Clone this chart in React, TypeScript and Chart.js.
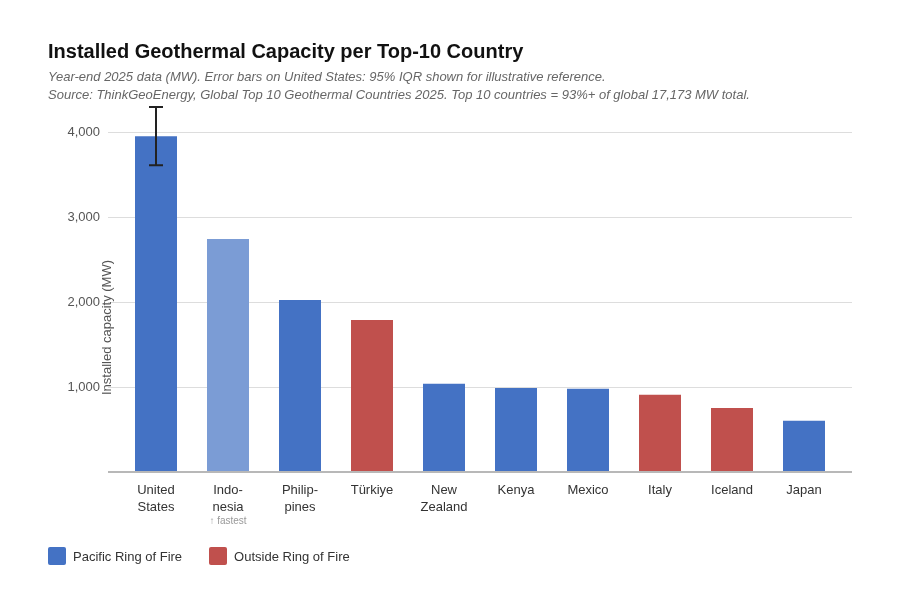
import { useEffect, useRef } from "react";
import { Chart, registerables } from "chart.js";

Chart.register(...registerables);

const categories = [
  ["United", "States"],
  ["Indo-", "nesia"],
  ["Philip-", "pines"],
  ["Türkiye"],
  ["New", "Zealand"],
  ["Kenya"],
  ["Mexico"],
  ["Italy"],
  ["Iceland"],
  ["Japan"],
];
const capacityMW = [3955, 2745, 2025, 1790, 1040, 990, 980, 910, 755, 603];
const pacificRing = [true, true, true, false, true, true, true, false, false, true];
const fastestGrowing = [false, true, false, false, false, false, false, false, false, false];
const errLow = [3615, null, null, null, null, null, null, null, null, null];
const errHigh = [4300, null, null, null, null, null, null, null, null, null];
const yTicks = [1000, 2000, 3000, 4000];
const yMax = 4300;

const BLUE = "#4472C4";
const BLUE_LIGHT = "#7B9CD5";
const RED = "#C0504D";
const FONT = '"Liberation Sans", Arial, sans-serif';

// gridlines, baseline, error bar, axis title and the "fastest" note
const extrasPlugin = {
  id: "extras",
  beforeDatasetsDraw(chart: any) {
    const { ctx, chartArea, scales } = chart;
    ctx.save();
    ctx.strokeStyle = "#dddddd";
    ctx.lineWidth = 1;
    yTicks.forEach((v) => {
      const y = Math.round(scales.y.getPixelForValue(v)) + 0.5;
      ctx.beginPath();
      ctx.moveTo(chartArea.left - 12, y);
      ctx.lineTo(chartArea.right + 12, y);
      ctx.stroke();
    });
    ctx.restore();
  },
  afterDatasetsDraw(chart: any) {
    const { ctx, chartArea, scales } = chart;
    ctx.save();
    // baseline
    ctx.strokeStyle = "#b8b8b8";
    ctx.lineWidth = 2;
    const y0 = scales.y.getPixelForValue(0);
    ctx.beginPath();
    ctx.moveTo(chartArea.left - 12, y0);
    ctx.lineTo(chartArea.right + 12, y0);
    ctx.stroke();

    // error bars
    ctx.strokeStyle = "#222222";
    ctx.lineWidth = 2;
    errLow.forEach((lo, i) => {
      const hi = errHigh[i];
      if (lo == null || hi == null) return;
      const x = scales.x.getPixelForValue(i);
      const yl = scales.y.getPixelForValue(lo);
      const yh = scales.y.getPixelForValue(hi);
      ctx.beginPath();
      ctx.moveTo(x, yl);
      ctx.lineTo(x, yh);
      ctx.moveTo(x - 7, yl);
      ctx.lineTo(x + 7, yl);
      ctx.moveTo(x - 7, yh);
      ctx.lineTo(x + 7, yh);
      ctx.stroke();
    });

    // y axis title
    ctx.fillStyle = "#555555";
    ctx.font = `13px ${FONT}`;
    ctx.textAlign = "center";
    ctx.textBaseline = "middle";
    ctx.translate(chartArea.left - 13, (chartArea.top + chartArea.bottom) / 2 + 38);
    ctx.rotate(-Math.PI / 2);
    ctx.fillText("Installed capacity (MW)", 0, 0);
    ctx.restore();

    // fastest note
    ctx.save();
    ctx.fillStyle = "#999999";
    ctx.font = `10px ${FONT}`;
    ctx.textAlign = "center";
    ctx.textBaseline = "middle";
    fastestGrowing.forEach((f, i) => {
      if (!f) return;
      ctx.fillText("↑ fastest", scales.x.getPixelForValue(i), y0 + 49);
    });
    ctx.restore();
  },
};

function GeothermalChart() {
  const canvasRef = useRef<HTMLCanvasElement>(null);
  const chartRef = useRef<Chart | null>(null);

  useEffect(() => {
    if (!canvasRef.current) return;
    const ctx = canvasRef.current.getContext("2d");
    if (!ctx) return;
    if (chartRef.current) chartRef.current.destroy();

    const colors = capacityMW.map((_, i) =>
      fastestGrowing[i] ? BLUE_LIGHT : pacificRing[i] ? BLUE : RED
    );

    chartRef.current = new Chart(ctx, {
      type: "bar",
      data: {
        labels: categories as any,
        datasets: [
          {
            data: capacityMW,
            backgroundColor: colors,
            borderWidth: 0,
            barPercentage: 42 / 72,
            categoryPercentage: 1,
          },
        ],
      },
      options: {
        animation: false,
        responsive: true,
        maintainAspectRatio: false,
        layout: { padding: { top: 107, right: 60, bottom: 0, left: 0 } },
        plugins: {
          legend: { display: false },
          tooltip: { enabled: false },
        },
        scales: {
          x: {
            grid: { display: false },
            border: { display: false },
            ticks: {
              color: "#333333",
              font: { family: FONT, size: 13, lineHeight: 17 / 13 },
              padding: 2,
              maxRotation: 0,
              autoSkip: false,
            },
            afterFit: (s: any) => {
              s.height = 141;
            },
          },
          y: {
            min: 0,
            max: yMax,
            grid: { display: false },
            border: { display: false },
            ticks: {
              stepSize: 1000,
              color: "#555555",
              font: { family: FONT, size: 13 },
              padding: 12,
              callback: (v: any) => Number(v).toLocaleString("en-US"),
            },
            afterBuildTicks: (s: any) => {
              s.ticks = yTicks.map((value) => ({ value }));
            },
            afterFit: (s: any) => {
              s.width = 120;
            },
          },
        },
      },
      plugins: [extrasPlugin],
    });

    return () => {
      if (chartRef.current) {
        chartRef.current.destroy();
        chartRef.current = null;
      }
    };
  }, []);

  return (
    <div style={{ position: "absolute", left: 0, top: 0, width: 900, height: 613 }}>
      <canvas ref={canvasRef} />
    </div>
  );
}

function LegendItem({ color, label }: { color: string; label: string }) {
  return (
    <div style={{ display: "flex", alignItems: "center", marginRight: 27 }}>
      <span
        style={{
          display: "inline-block",
          width: 18,
          height: 18,
          borderRadius: 2,
          background: color,
          marginRight: 7,
        }}
      />
      <span style={{ fontSize: 13, color: "#333" }}>{label}</span>
    </div>
  );
}

export default function App() {
  return (
    <div
      style={{
        position: "absolute",
        left: 0,
        top: 0,
        width: 900,
        height: 613,
        background: "#fff",
        fontFamily: FONT,
        overflow: "hidden",
      }}
    >
      <GeothermalChart />
      <div style={{ position: "absolute", left: 48, top: 38 }}>
        <div style={{ fontSize: 20, fontWeight: "bold", color: "#111", lineHeight: "26px" }}>
          Installed Geothermal Capacity per Top-10 Country
        </div>
        <div
          style={{
            fontSize: 13,
            fontStyle: "italic",
            color: "#666",
            lineHeight: "18px",
            marginTop: 4,
          }}
        >
          <div>Year-end 2025 data (MW). Error bars on United States: 95% IQR shown for illustrative reference.</div>
          <div>
            Source: ThinkGeoEnergy, Global Top 10 Geothermal Countries 2025. Top 10 countries = 93%+ of global 17,173 MW total.
          </div>
        </div>
      </div>
      <div style={{ position: "absolute", left: 48, top: 547, display: "flex" }}>
        <LegendItem color={BLUE} label="Pacific Ring of Fire" />
        <LegendItem color={RED} label="Outside Ring of Fire" />
      </div>
    </div>
  );
}
